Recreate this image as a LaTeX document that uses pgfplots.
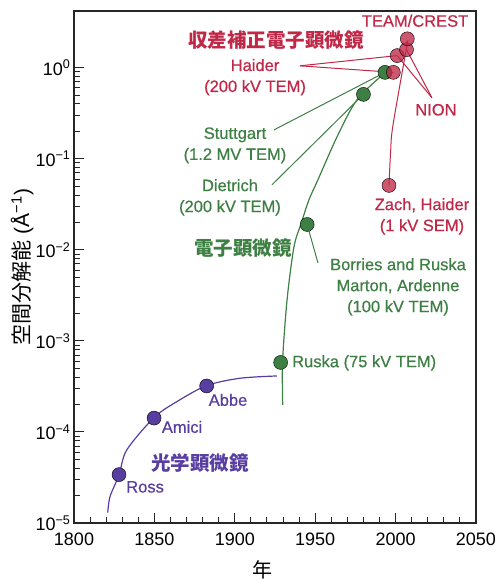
\documentclass[border=0pt]{standalone}
\usepackage{fontspec}
\setmainfont{Liberation Sans}
\newfontfamily\medfont[FakeBold=0.6]{Liberation Sans}
\newfontfamily\cjk{Noto Sans CJK JP}
\usepackage{pgfplots}
\pgfplotsset{compat=1.18}
\definecolor{cpur}{RGB}{88,62,160}
\definecolor{cgrn}{RGB}{62,128,68}
\definecolor{cred}{RGB}{192,40,72}
\newcommand{\lbl}{\fontsize{16.5}{21}\selectfont\medfont}
\newcommand{\cjl}{\fontsize{19.5}{22}\selectfont\cjk\bfseries}
\begin{document}
\begin{tikzpicture}
\path[use as bounding box] (-74pt,-59pt) rectangle (425pt,523pt);
\begin{axis}[
  scale only axis, width=402pt, height=512pt,
  xmin=1800, xmax=2050, ymode=log, ymin=1e-5, ymax=4.2,
  xtick={1800,1850,...,2050}, minor x tick num=4,
  ytick={1e-5,1e-4,1e-3,1e-2,1e-1,1},
  yticklabels={10\textsuperscript{−5},10\textsuperscript{−4},10\textsuperscript{−3},10\textsuperscript{−2},10\textsuperscript{−1},10\textsuperscript{0}},
  tick align=inside, xtick pos=bottom, ytick pos=left,
  major tick length=10pt, minor tick length=6pt,
  axis line style={line width=1.3pt, black!85},
  every tick/.style={black!85, line width=1pt},
  tick label style={font=\fontsize{18}{18}\selectfont},
  xticklabel style={yshift=-6pt},
  /pgf/number format/assume math mode=true,
  /pgf/number format/1000 sep={},
  xlabel={\fontsize{20}{20}\selectfont\cjk 年},
  xlabel style={at={(axis description cs:0.47,-0.092)}, anchor=center},
  ylabel={\fontsize{21}{21}\selectfont{\cjk 空間分解能} (Å\textsuperscript{−1})},
  ylabel style={at={(axis description cs:-0.129,0.5)}, anchor=center},
  clip=false,
]
% optical microscope curve
\addplot[cpur, line width=1.2pt, smooth, tension=0.5] coordinates {
(1821.0,1.30e-5) (1822.4,1.95e-5) (1828.0,3.37e-5) (1832.8,6.34e-5) (1849.8,1.44e-4)
(1863.9,2.15e-4) (1882.5,3.23e-4) (1903.2,3.89e-4) (1926.1,4.12e-4)};
\addplot[only marks, mark=*, mark size=7pt, mark options={fill=cpur, draw=none}] coordinates {
(1828,3.4e-5) (1849.8,1.42e-4) (1882.5,3.2e-4)};
% electron microscope curve
\addplot[cgrn, line width=1.2pt, smooth, tension=0.5] coordinates {
(1929.8,1.98e-4) (1929.7,5.88e-4) (1932.5,2.82e-3) (1936.8,1.08e-2) (1941.2,1.93e-2)
(1946.1,3.54e-2) (1951.7,5.88e-2) (1963.6,0.1746) (1976.0,0.445) (1993.4,0.881)};
\addplot[cgrn, line width=1pt] coordinates {(1924.4,0.208) (1993.4,0.89)};
\addplot[cgrn, line width=1pt] coordinates {(1923.1,0.0518) (1980,0.51)};
\addplot[cgrn, line width=1pt] coordinates {(1945,0.019) (1951.7,7.2e-3)};
\addplot[only marks, mark=*, mark size=7pt, mark options={fill=cgrn, draw=none}] coordinates {
(1928.5,5.8e-4) (1945,0.019) (1980,0.51) (1993.4,0.89)};
% aberration corrected
\addplot[only marks, mark=*, mark size=7pt, mark options={fill=cred, draw=none, fill opacity=0.78}] coordinates {
(1995.9,0.051) (1998.6,0.89) (2001,1.36) (2006.8,1.58) (2007.3,2.08)};
\addplot[cred, line width=1pt] coordinates {(1940.5,1.05) (2001,1.36)};
\addplot[cred, line width=1pt] coordinates {(1940.5,1.05) (1998.6,0.89)};
\addplot[cred, line width=1pt] coordinates {(2022.6,0.468) (2001,1.36)};
\addplot[cred, line width=1pt] coordinates {(2022.6,0.468) (2006.8,1.58)};
\addplot[cred, line width=1pt, smooth] coordinates {(1995.9,0.051) (1996.9,0.12) (1998.4,0.236) (2007.7,2.03)};
% labels
\node[cred, font=\lbl] at (axis cs:2012.1,3.28) {TEAM/CREST};
\node[cred, font=\cjl] at (axis cs:1925.6,2.03) {収差補正電子顕微鏡};
\node[cred, font=\lbl, align=center] at (axis cs:1912.6,0.787) {Haider\\(200 kV TEM)};
\node[cred, font=\lbl] at (axis cs:2025.1,0.3455) {NION};
\node[cred, font=\lbl, align=center] at (axis cs:2016.4,0.02334) {Zach, Haider\\(1 kV SEM)};
\node[cgrn, font=\lbl, align=center] at (axis cs:1900.1,0.1407) {Stuttgart\\(1.2 MV TEM)};
\node[cgrn, font=\lbl, align=center] at (axis cs:1897,0.03775) {Dietrich\\(200 kV TEM)};
\node[cgrn, font=\cjl] at (axis cs:1905.1,0.0105) {電子顕微鏡};
\node[cgrn, font=\lbl, align=center] at (axis cs:2001.5,3.92e-3) {Borries and Ruska\\Marton, Ardenne\\(100 kV TEM)};
\node[cgrn, font=\lbl, anchor=west, inner sep=0pt] at (axis cs:1935.6,5.73e-4) {Ruska (75 kV TEM)};
\node[cpur, font=\lbl] at (axis cs:1895.8,2.25e-4) {Abbe};
\node[cpur, font=\lbl] at (axis cs:1867.2,1.135e-4) {Amici};
\node[cpur, font=\cjl] at (axis cs:1878.4,4.56e-5) {光学顕微鏡};
\node[cpur, font=\lbl] at (axis cs:1844.2,2.49e-5) {Ross};
\end{axis}
\end{tikzpicture}
\end{document}
